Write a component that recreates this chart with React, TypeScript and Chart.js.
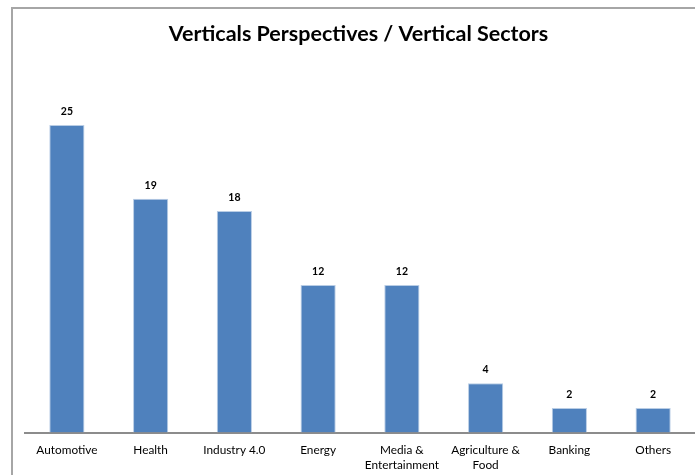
import React, { useEffect, useRef } from "react";
import { Chart, registerables } from "chart.js";

Chart.register(...registerables);

const titleText = "Verticals Perspectives / Vertical Sectors";
const categories: (string | string[])[] = [
  "Automotive",
  "Health",
  "Industry 4.0",
  "Energy",
  ["Media &", "Entertainment"],
  ["Agriculture &", "Food"],
  "Banking",
  "Others",
];
const values = [25, 19, 18, 12, 12, 4, 2, 2];
const yMax = 30;

const FONT = "Lato, 'Open Sans', 'DejaVu Sans', sans-serif";

const overlayPlugin = {
  id: "overlay",
  afterDatasetsDraw(chart: any) {
    const ctx = chart.ctx;
    ctx.save();
    // title
    ctx.fillStyle = "#000000";
    ctx.font = `bold 21.5px ${FONT}`;
    ctx.textAlign = "center";
    ctx.textBaseline = "middle";
    ctx.fillText(titleText, 358.5, 34);
    // value labels
    const meta = chart.getDatasetMeta(0);
    ctx.font = `bold 10.5px ${FONT}`;
    ctx.textBaseline = "alphabetic";
    meta.data.forEach((bar: any, i: number) => {
      ctx.fillText(String(values[i]), bar.x, bar.y - 10);
    });
    ctx.restore();
  },
};

export default function App() {
  const ref = useRef<HTMLCanvasElement | null>(null);
  useEffect(() => {
    document.body.style.margin = "0";
    const chart = new Chart(ref.current as HTMLCanvasElement, {
      type: "bar",
      data: {
        labels: categories,
        datasets: [
          {
            data: values,
            backgroundColor: "#4F81BD",
            borderColor: "#B9CDE5",
            borderWidth: 1,
            barPercentage: 0.42,
            categoryPercentage: 1,
          },
        ],
      },
      options: {
        animation: false,
        responsive: false,
        maintainAspectRatio: false,
        layout: { padding: { left: 25, right: 0, top: 63.5, bottom: 0 } },
        plugins: {
          legend: { display: false },
          title: { display: false },
          tooltip: { enabled: false },
        },
        scales: {
          x: {
            grid: { display: false, drawTicks: false },
            border: { display: true, color: "#8c8c8c", width: 2 },
            ticks: {
              color: "#000000",
              font: { family: FONT, size: 11.8, lineHeight: 1.3 },
              padding: 10,
              maxRotation: 0,
              autoSkip: false,
            },
            afterFit: (scale: any) => {
              scale.height = 42.5;
            },
          },
          y: {
            display: false,
            min: 0,
            max: yMax,
          },
        },
      },
      plugins: [overlayPlugin],
    });
    return () => chart.destroy();
  }, []);

  return (
    <div
      style={{
        position: "fixed",
        left: 0,
        top: 0,
        width: 695,
        height: 475,
        overflow: "hidden",
        background: "#ffffff",
      }}
    >
      <div
        style={{
          position: "absolute",
          left: 11,
          top: 7,
          width: 700,
          height: 480,
          borderTop: "2px solid #a6a6a6",
          borderLeft: "2px solid #a6a6a6",
          boxSizing: "border-box",
        }}
      />
      <canvas
        ref={ref}
        width={695}
        height={475}
        style={{ position: "absolute", left: 0, top: 0, width: 695, height: 475 }}
      />
    </div>
  );
}
